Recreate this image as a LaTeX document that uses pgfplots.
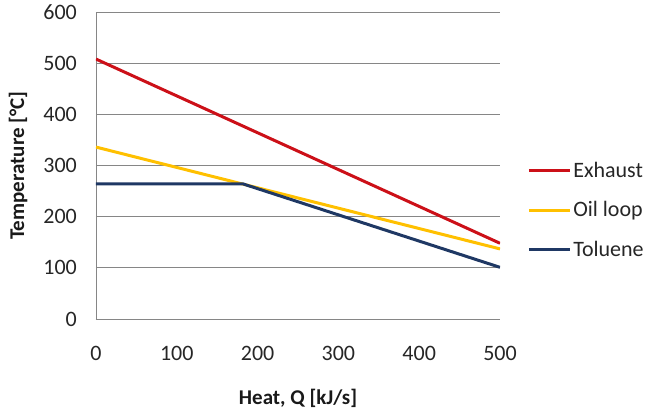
\documentclass[border=0pt]{standalone}
\usepackage{pgfplots}
\pgfplotsset{compat=1.18}
\usepackage{fontspec}
\setmainfont{Carlito}
\definecolor{exhaust}{RGB}{204,16,24}
\definecolor{oilloop}{RGB}{255,192,0}
\definecolor{toluene}{RGB}{31,56,100}
\definecolor{gridgray}{RGB}{134,134,134}

\begin{document}
\begin{tikzpicture}
\begin{axis}[
    name=ax,
    scale only axis,
    width=404bp, height=307bp,
    xmin=0, xmax=500, ymin=0, ymax=600,
    xtick={0,100,...,500}, ytick={0,100,...,600},
    axis lines*=left,
    axis line style={draw=gridgray, line width=0.8bp, -},
    major tick length=0pt,
    ymajorgrids=true,
    grid style={draw=gridgray, line width=0.8bp},
    /pgf/number format/assume math mode=true,
    tick label style={font=\fontsize{22bp}{26bp}\selectfont, text=black!85, inner sep=0pt},
    xticklabel style={anchor=center, yshift=-34bp},
    yticklabel style={anchor=east, xshift=-19bp},
    xlabel={\bfseries Heat, Q [kJ/s]},
    ylabel={\bfseries Temperature [°C]},
    label style={font=\fontsize{21bp}{25bp}\selectfont, text=black!90},
    xlabel style={at={(axis description cs:0.5,-0.257)}, anchor=center},
    ylabel style={at={(axis description cs:-0.193,0.5)}, anchor=center},
    legend style={at={(axis description cs:1.067,0.355)}, anchor=west,
        draw=none, fill=none, inner sep=0pt, row sep=19bp,
        font=\fontsize{22bp}{26bp}\selectfont, text=black!85,
        nodes={inner sep=2bp}},
    legend cell align=left,
    legend image code/.code={\draw[#1] (0bp,0bp) -- (41bp,0bp);},
]
\addplot[exhaust, line width=3bp] coordinates {(0,508) (500,148)};
\addlegendentry{Exhaust}
\addplot[oilloop, line width=3bp] coordinates {(0,336) (500,137)};
\addlegendentry{Oil loop}
\addplot[toluene, line width=3bp] coordinates {(0,264) (182,264) (500,101)};
\addlegendentry{Toluene}
\end{axis}
\path[use as bounding box] ([shift={(-96bp,-90bp)}]ax.south west) rectangle ([shift={(147bp,12bp)}]ax.north east);
\end{tikzpicture}
\end{document}
